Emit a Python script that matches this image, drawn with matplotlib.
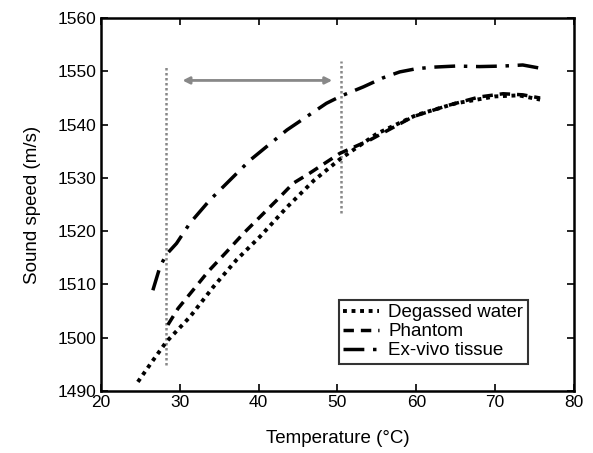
import matplotlib
matplotlib.use("Agg")
import matplotlib.pyplot as plt

plt.rcParams['font.family'] = ['Liberation Sans', 'DejaVu Sans']

# data
temp_water = [24.7, 26.5, 28.3, 31.3, 34.3, 37.2, 40.2, 43.6, 47.0, 50.3, 55.0, 60.0, 65.0, 70.0, 73.0, 75.7]
speed_water = [1491.7, 1495.5, 1499.2, 1503.9, 1509.6, 1514.6, 1519.0, 1524.5, 1529.5, 1533.5, 1538.3, 1541.8, 1544.0, 1545.3, 1545.5, 1544.7]

temp_phantom = [28.5, 29.8, 31.9, 33.6, 36.0, 38.1, 40.2, 42.3, 44.4, 46.5, 50.3, 54.1, 59.6, 64.0, 68.0, 71.0, 73.5, 75.7]
speed_phantom = [1502.4, 1505.5, 1509.3, 1512.4, 1516.2, 1519.6, 1522.7, 1525.8, 1529.0, 1530.9, 1534.6, 1537.1, 1541.5, 1543.6, 1545.2, 1545.8, 1545.6, 1545.0]

temp_tissue = [26.6, 27.5, 28.3, 29.6, 31.3, 33.8, 35.5, 38.9, 43.6, 48.6, 50.5, 53.3, 55.8, 57.9, 60.0, 62.2, 65.0, 68.0, 71.0, 73.5, 75.7]
speed_tissue = [1508.9, 1513.3, 1515.6, 1517.7, 1521.5, 1525.8, 1528.3, 1533.3, 1539.0, 1544.0, 1545.4, 1547.1, 1548.8, 1549.9, 1550.5, 1550.8, 1551.0, 1550.9, 1551.0, 1551.2, 1550.6]

# heating window markers
window_temp = [28.3, 50.4]
window_lo = [1494.8, 1523.4]
window_hi = [1551.2, 1552.0]
arrow_x = [30.0, 49.7]
arrow_y = 1548.3

fig = plt.figure(figsize=(5.93, 4.53), dpi=100)
ax = fig.add_axes([0.170, 0.137, 0.798, 0.823])

for t, lo, hi in zip(window_temp, window_lo, window_hi):
    ax.plot([t, t], [lo, hi], color='#888888', linestyle=(0, (1, 1)), linewidth=1.8)

ax.annotate('', xy=(arrow_x[0], arrow_y), xytext=(arrow_x[1], arrow_y),
            arrowprops=dict(arrowstyle='<|-|>', color='#888888', lw=2, mutation_scale=10))

ax.plot(temp_water, speed_water, color='black', linestyle=(0, (1, 1.2)), linewidth=2.8, label='Degassed water')
ax.plot(temp_phantom, speed_phantom, color='black', linestyle=(0, (3, 2)), linewidth=2.5, label='Phantom')
ax.plot(temp_tissue, speed_tissue, color='black', linestyle=(0, (6, 2.5, 1, 2.5)), linewidth=2.5, label='Ex-vivo tissue')

ax.set_xlim(20, 80)
ax.set_ylim(1490, 1560)
ax.set_xticks(range(20, 81, 10))
ax.set_yticks(range(1490, 1561, 10))
ax.tick_params(direction='in', top=True, right=True, labelsize=12.5, length=5, width=1.2, pad=3)
for s in ax.spines.values():
    s.set_linewidth(1.8)

ax.set_xlabel('Temperature (°C)', fontsize=13.5, labelpad=14)
ax.set_ylabel('Sound speed (m/s)', fontsize=13.5, labelpad=12)

leg = ax.legend(loc='lower right', bbox_to_anchor=(0.903, 0.072), fontsize=13.5, frameon=True,
                fancybox=False, edgecolor='black', handlelength=1.9, borderpad=0.25,
                labelspacing=0.1, handletextpad=0.5, borderaxespad=0)
leg.get_frame().set_linewidth(1.5)

fig.savefig('out.png', dpi=100)
